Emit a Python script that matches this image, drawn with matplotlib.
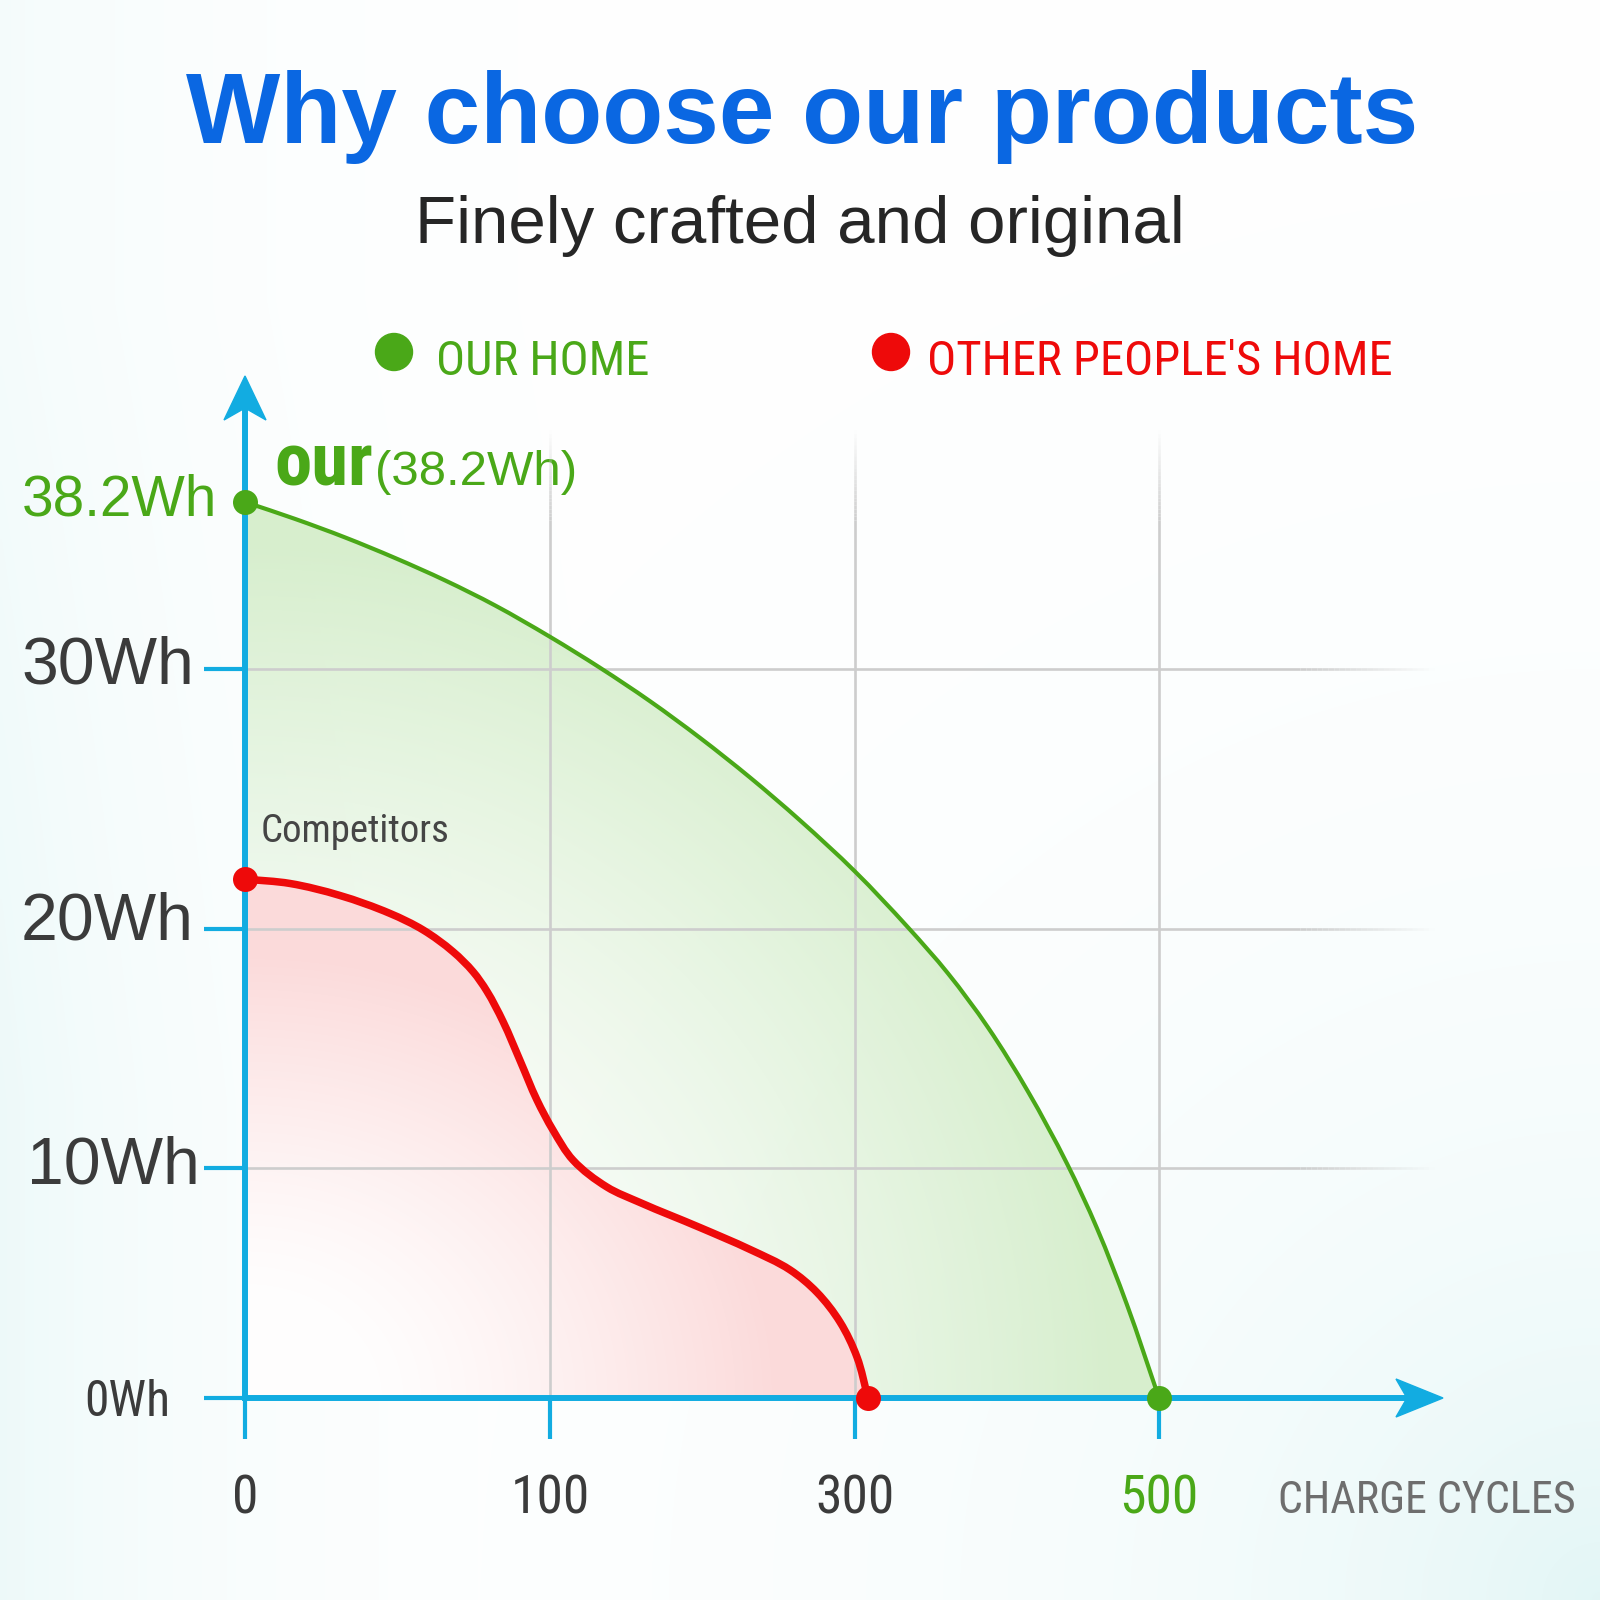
import numpy as np
import matplotlib
matplotlib.use("Agg")
import matplotlib.pyplot as plt
import matplotlib.transforms as mtransforms
from matplotlib import font_manager
from matplotlib.patches import Polygon, Circle, PathPatch
from matplotlib.path import Path
from matplotlib.collections import LineCollection

# ---------------- data ----------------
X_TICK_VALUES = [0, 100, 300, 500]
X_TICK_LABELS = ["0", "100", "300", "500"]
Y_TICK_VALUES = [0, 10, 20, 30, 38.2]
Y_TICK_LABELS = ["0Wh", "10Wh", "20Wh", "30Wh", "38.2Wh"]

SERIES_NAMES = ["OUR HOME", "OTHER PEOPLE'S HOME"]

our_cycles = [0, 16.4, 32.8, 49.2, 65.6, 82.0, 100, 132.8, 165.6, 198.4, 231.1,
              263.9, 300, 334.9, 361.2, 387.5, 413.8, 439.5, 459.2, 478.9, 500]
our_wh = [38.2, 37.37, 36.46, 35.45, 34.35, 33.12, 31.58, 30.06, 28.76, 27.35, 25.83,
          24.18, 22.21, 20.06, 18.14, 15.88, 13.20, 10.18, 7.38, 4.06, 0]

other_cycles = [0, 14.8, 31.1, 47.5, 58.4, 68.2, 74.8, 79.3, 84.6, 90.2, 95.7,
                102.0, 115.1, 137.4, 159.0, 198.4, 231.1, 257.4, 275.1, 290.2, 301.3, 308.6]
other_wh = [21.92, 21.75, 21.29, 20.60, 19.96, 19.05, 18.21, 17.40, 16.13, 14.49, 12.85,
            11.58, 10.33, 9.17, 8.50, 7.41, 6.46, 5.57, 4.59, 3.30, 1.78, 0]

# ---------------- style / layout ----------------
GREEN = "#4aa818"
RED = "#ee0a0a"
CYAN = "#12ace1"
BLUE = "#0a67e2"
DARK = "#3b3b3b"
GRID = "#cdcdcd"

installed = {f.name for f in font_manager.fontManager.ttflist}
SANS = "Liberation Sans" if "Liberation Sans" in installed else "DejaVu Sans"
COND = next((n for n in ["Liberation Sans Narrow", "Roboto Condensed",
                         "Open Sans Condensed", "DejaVu Sans"] if n in installed),
            "DejaVu Sans")
plt.rcParams["font.family"] = [SANS, "DejaVu Sans"]

W = H = 1600
ORIGIN_X, ORIGIN_Y = 245, 1398          # pixel position of the axes origin
X_PX = np.array([0., 305., 610., 914.])  # pixel offsets of the x ticks
Y_PX = np.array([0., 230., 469., 729., 896.])  # pixel offsets of the y ticks

fig = plt.figure(figsize=(16, 16), dpi=100)
bg = fig.add_axes([0, 0, 1, 1], zorder=0)
bg.set_xlim(0, W)
bg.set_ylim(H, 0)
bg.axis("off")

# background tint
yy, xx = np.mgrid[0:H:4, 0:W:4].astype(float) + 2.0
tint_left = np.exp(-xx / 220.0) * 0.55 * (0.6 + 0.4 * np.clip((yy - 300) / 800, 0, 1))
tint_br = np.exp(-np.hypot(W - xx, H - yy) / 420.0) * 0.9
tint = np.maximum(tint_left, tint_br)
bg_rgb = 1 - tint[..., None] * np.array([0.125, 0.04, 0.04])
bg.imshow(bg_rgb, extent=(0, W, H, 0), interpolation="bilinear", zorder=0, aspect="auto")


# ---------------- scales ----------------
def _pw(v, xp, fp):
    v = np.asarray(v, dtype=float)
    out = np.interp(v, xp, fp)
    lo_s = (fp[1] - fp[0]) / (xp[1] - xp[0])
    hi_s = (fp[-1] - fp[-2]) / (xp[-1] - xp[-2])
    out = np.where(v < xp[0], fp[0] + (v - xp[0]) * lo_s, out)
    out = np.where(v > xp[-1], fp[-1] + (v - xp[-1]) * hi_s, out)
    return out


xv = np.array(X_TICK_VALUES, float)
yv = np.array(Y_TICK_VALUES, float)
xf = lambda v: _pw(v, xv, X_PX)
xi = lambda p: _pw(p, X_PX, xv)
yf = lambda v: _pw(v, yv, Y_PX)
yi = lambda p: _pw(p, Y_PX, yv)

X_TIP, Y_TIP = 1441, 378
ax = fig.add_axes([ORIGIN_X / W, (H - ORIGIN_Y) / H,
                   (X_TIP - ORIGIN_X) / W, (ORIGIN_Y - Y_TIP) / H], zorder=1)
ax.set_xscale("function", functions=(xf, xi))
ax.set_yscale("function", functions=(yf, yi))
ax.set_xlim(0, float(xi(X_TIP - ORIGIN_X)))
ax.set_ylim(0, float(yi(ORIGIN_Y - Y_TIP)))
ax.patch.set_visible(False)

for s in ["top", "right"]:
    ax.spines[s].set_visible(False)
for s in ["left", "bottom"]:
    ax.spines[s].set_color(CYAN)
    ax.spines[s].set_linewidth(4.3)
    ax.spines[s].set_zorder(6)
ax.spines["bottom"].set_bounds(0, float(xi(1420 - ORIGIN_X)))
ax.spines["left"].set_bounds(0, float(yi(ORIGIN_Y - 398)))
ax.set_xticks(X_TICK_VALUES)
ax.set_yticks(Y_TICK_VALUES[:4])
ax.set_xticklabels([])
ax.set_yticklabels([])
ax.minorticks_off()
ax.tick_params(axis="both", direction="out", length=29.5, width=3.0, color=CYAN)

# arrowheads
ax.add_patch(Polygon([(1443, 1398), (1396, 1379), (1407, 1398), (1396, 1417)],
                     closed=True, transform=bg.transData, color=CYAN,
                     clip_on=False, zorder=8))
ax.add_patch(Polygon([(245, 376), (224, 420), (245, 408), (266, 420)],
                     closed=True, transform=bg.transData, color=CYAN,
                     clip_on=False, zorder=8))


# ---------------- grid (fading ends) ----------------
def faded(p0, p1, f0, n=24):
    segs, cols = [], []
    base = np.array(matplotlib.colors.to_rgba(GRID))
    segs.append([p0, f0])
    cols.append(base)
    for i in range(n):
        a = i / n
        b = (i + 1) / n
        q0 = (f0[0] + (p1[0] - f0[0]) * a, f0[1] + (p1[1] - f0[1]) * a)
        q1 = (f0[0] + (p1[0] - f0[0]) * b, f0[1] + (p1[1] - f0[1]) * b)
        c = base.copy()
        c[3] = 1 - (i + 0.5) / n
        segs.append([q0, q1])
        cols.append(c)
    return segs, cols


all_segs, all_cols = [], []
x_fade, x_end = float(xi(1300 - ORIGIN_X)), float(xi(1434 - ORIGIN_X))
for v in Y_TICK_VALUES[1:4]:
    s, c = faded((0, v), (x_end, v), (x_fade, v))
    all_segs += s
    all_cols += c
y_fade, y_end = float(yi(ORIGIN_Y - 520)), float(yi(ORIGIN_Y - 430))
for v in X_TICK_VALUES[1:]:
    s, c = faded((v, 0), (v, y_end), (v, y_fade))
    all_segs += s
    all_cols += c
ax.add_collection(LineCollection(all_segs, colors=all_cols, linewidths=1.9,
                                 zorder=1, capstyle="butt"), autolim=False)


# ---------------- smooth curves through the data points ----------------
def to_px(xs, ys):
    disp = ax.transData.transform(np.column_stack([xs, ys]))
    return bg.transData.inverted().transform(disp)


def _unit(v):
    n = np.hypot(*v)
    return v / n if n > 0 else v


def smooth_path(xs, ys, close=False):
    P = to_px(xs, ys)
    n = len(P)
    T = []
    for i in range(n):
        if i == 0:
            T.append(_unit(P[1] - P[0]))
        elif i == n - 1:
            T.append(_unit(P[-1] - P[-2]))
        else:
            T.append(_unit(_unit(P[i] - P[i - 1]) + _unit(P[i + 1] - P[i])))
    verts = [P[0]]
    codes = [Path.MOVETO]
    for i in range(n - 1):
        d = np.hypot(*(P[i + 1] - P[i])) / 3.0
        verts += [P[i] + T[i] * d, P[i + 1] - T[i + 1] * d, P[i + 1]]
        codes += [Path.CURVE4] * 3
    if close:
        base = to_px([xs[-1], xs[0]], [0, 0])
        verts += [base[0], base[1], P[0]]
        codes += [Path.LINETO, Path.LINETO, Path.CLOSEPOLY]
    return Path(np.array(verts), codes)


g_fill_path = smooth_path(our_cycles, our_wh, close=True)
r_fill_path = smooth_path(other_cycles, other_wh, close=True)

gr = np.hypot((xx - ORIGIN_X) / 912.0, (ORIGIN_Y - yy) / 896.0)
ag = np.clip((gr - 0.35) / 0.6, 0, 1) ** 1.3 * 0.85 + 0.12
g_rgba = np.zeros(xx.shape + (4,))
g_rgba[..., :3] = np.array([0.84, 0.935, 0.80])
g_rgba[..., 3] = ag
g_img = bg.imshow(g_rgba, extent=(0, W, H, 0), interpolation="bilinear", zorder=2, aspect="auto")
g_img.set_clip_path(g_fill_path, bg.transData)

rr = np.hypot((xx - ORIGIN_X) / 623.0, (ORIGIN_Y - yy) / 519.0)
ar = np.clip((rr - 0.2) / 0.65, 0, 1) ** 1.3 * 0.85 + 0.04
pink = np.array([0.985, 0.84, 0.84])
r_rgb = (1 - ar[..., None]) * np.ones(3) + ar[..., None] * pink
r_img = bg.imshow(r_rgb, extent=(0, W, H, 0), interpolation="bilinear", zorder=3, aspect="auto")
r_img.set_clip_path(r_fill_path, bg.transData)

bg.set_xlim(0, W)
bg.set_ylim(H, 0)

ax.add_patch(PathPatch(smooth_path(our_cycles, our_wh), fill=False, edgecolor=GREEN,
                       lw=3.0, capstyle="round", joinstyle="round",
                       transform=bg.transData, clip_on=False, zorder=4))
ax.add_patch(PathPatch(smooth_path(other_cycles, other_wh), fill=False, edgecolor=RED,
                       lw=5.4, capstyle="round", joinstyle="round",
                       transform=bg.transData, clip_on=False, zorder=4))
ax.plot([our_cycles[0], our_cycles[-1]], [our_wh[0], our_wh[-1]], "o", ms=18,
        color=GREEN, mew=0, zorder=9, clip_on=False)
ax.plot([other_cycles[0], other_cycles[-1]], [other_wh[0], other_wh[-1]], "o", ms=18,
        color=RED, mew=0, zorder=9, clip_on=False)

# ---------------- texts ----------------
R = fig.canvas.get_renderer()


def fit(t, width=None, cap=None, wmix=0.5):
    t.set_fontsize(20)
    w = t.get_window_extent(renderer=R).width
    s_w = 20.0 * width / w if width else None
    s_h = cap * 1.04 if cap else None
    if s_w and s_h:
        s = s_w ** wmix * s_h ** (1 - wmix)
    else:
        s = s_w or s_h
    t.set_fontsize(s)
    return s


def txt(x, y, s, ha="left", family=SANS, color=DARK, weight="normal",
        width=None, cap=None, transform=None, size=None, wmix=0.5):
    t = bg.text(x, y, s, ha=ha, va="baseline", family=[family, "DejaVu Sans"],
                color=color, fontweight=weight, zorder=10,
                transform=transform if transform is not None else bg.transData)
    if size is not None:
        t.set_fontsize(size)
    else:
        fit(t, width, cap, wmix)
    return t


# title / subtitle
txt(802, 143, "Why choose our products", ha="center", color=BLUE, weight="bold", width=1232)
txt(800, 243, "Finely crafted and original", ha="center", color="#262626", width=768)

# legend
bg.add_patch(Circle((394, 352), 18.5, color=GREEN, zorder=10))
bg.add_patch(Circle((891, 352), 18.5, color=RED, zorder=10))
txt(436, 375, SERIES_NAMES[0], family=COND, color=GREEN, width=197, cap=46, wmix=0.8)
txt(927, 375, SERIES_NAMES[1], family=COND, color=RED, width=430, cap=46, wmix=0.8)

# annotations
txt(274, 486, "our", family=COND, color=GREEN, weight="bold", width=92, cap=70, wmix=0.8)
txt(375, 485, "(38.2Wh)", color=GREEN, width=186, cap=37)
txt(261, 842, "Competitors", family=COND, color="#454545", width=172, cap=39, wmix=0.8)

# y tick labels: x in pixels, y in data units
ty = mtransforms.blended_transform_factory(bg.transData, ax.transData)
y_label_style = {
    "0Wh": dict(x=170, off=18, family=COND, color=DARK, width=86),
    "10Wh": dict(x=200, off=15, family=SANS, color=DARK),
    "20Wh": dict(x=194, off=11, family=SANS, color=DARK),
    "30Wh": dict(x=194, off=14, family=SANS, color=DARK),
    "38.2Wh": dict(x=217, off=13, family=SANS, color=GREEN, width=195),
}
probe = bg.text(0, 0, "30Wh", family=[SANS], fontsize=20)
wh_size = fit(probe, width=172, cap=46)
probe.remove()
for val, lab in zip(Y_TICK_VALUES, Y_TICK_LABELS):
    st = y_label_style[lab]
    tr = mtransforms.offset_copy(ty, fig=fig, x=0, y=-st["off"], units="dots")
    if "width" in st:
        txt(st["x"], val, lab, ha="right", family=st["family"], color=st["color"],
            width=st["width"], cap=st.get("cap"), transform=tr)
    else:
        txt(st["x"], val, lab, ha="right", family=st["family"], color=st["color"],
            transform=tr, size=wh_size)

# x tick labels: x in data units, y in pixels
tx = mtransforms.blended_transform_factory(ax.transData, bg.transData)
probe = bg.text(0, 0, "100", family=[COND], fontsize=20)
xl_size = fit(probe, width=67, cap=44)
probe.remove()
for val, lab in zip(X_TICK_VALUES, X_TICK_LABELS):
    txt(val, 1513, lab, ha="center", family=COND,
        color=GREEN if val == X_TICK_VALUES[-1] else DARK, transform=tx, size=xl_size)
txt(1278, 1513, "CHARGE CYCLES", family=COND, color="#6e6e6e", width=297)

fig.savefig("out.png", dpi=100)
